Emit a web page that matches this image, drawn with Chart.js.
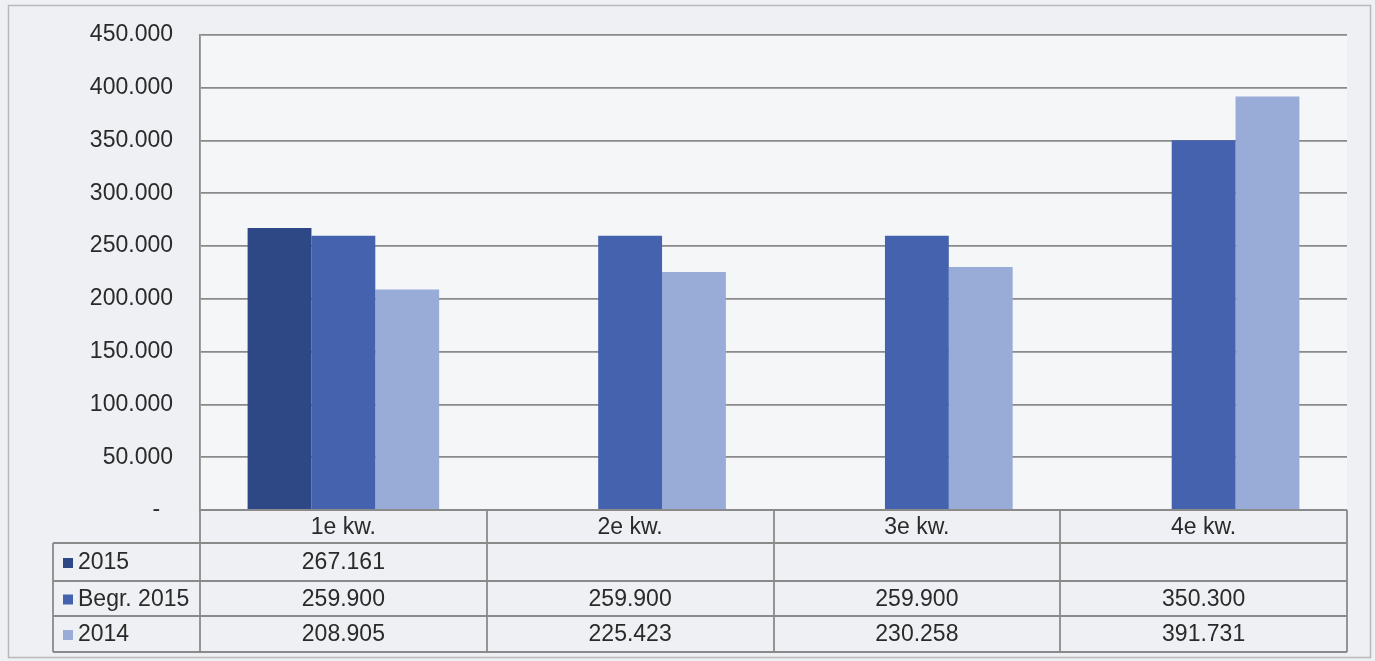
<!DOCTYPE html>
<html>
<head>
<meta charset="utf-8">
<script src="https://cdn.jsdelivr.net/npm/chart.js@4/dist/chart.umd.min.js"></script>
<style>
html, body { margin: 0; padding: 0; background: #eef0f3; }
#wrap { width: 1375px; height: 661px; position: relative; }
</style>
</head>
<body>
<div id="wrap"><canvas id="chart" width="1375" height="661"></canvas></div>
<script>
// categorieën en reeksen
const kwartalen = ['1e kw.', '2e kw.', '3e kw.', '4e kw.'];
const reeksNamen = ['2015', 'Begr. 2015', '2014'];
const data2015 = [267161, null, null, null];
const begr2015 = [259900, 259900, 259900, 350300];
const data2014 = [208905, 225423, 230258, 391731];
const yTicks = [0, 50000, 100000, 150000, 200000, 250000, 300000, 350000, 400000, 450000];
const kleuren = ['#2e4885', '#4462ad', '#98acd7'];

const FONT = '"Liberation Sans", Arial, sans-serif';
const LIJN = '#8a8a8a';
const TEKST = '#2a2a2a';

function fmt(v) {
  if (v === null || v === undefined) return '';
  if (v === 0) return '-  ';
  return String(v).replace(/\B(?=(\d{3})+(?!\d))/g, '.');
}

// achtergrond, kader en datatabel
const tabelPlugin = {
  id: 'tabel',
  beforeDraw(chart) {
    const ctx = chart.ctx;
    const a = chart.chartArea;
    ctx.save();
    ctx.fillStyle = '#eef0f3';
    ctx.fillRect(0, 0, chart.width, chart.height);
    ctx.fillStyle = '#f5f6f8';
    ctx.fillRect(a.left, a.top, a.right - a.left, a.bottom - a.top);
    ctx.strokeStyle = '#b8b8b8';
    ctx.lineWidth = 1.5;
    ctx.strokeRect(8.5, 5.5, 1362, 652);
    ctx.restore();
  },
  afterDraw(chart) {
    const ctx = chart.ctx;
    const a = chart.chartArea;
    const x = chart.scales.x;
    const labelLeft = 53;
    const rows = [a.bottom, 543, 581, 616, 652];
    const colW = (a.right - a.left) / kwartalen.length;
    ctx.save();
    ctx.strokeStyle = LIJN;
    ctx.lineWidth = 1.8;
    ctx.beginPath();
    // horizontale lijnen
    ctx.moveTo(a.left, rows[0]); ctx.lineTo(a.right, rows[0]);
    for (let i = 1; i < rows.length; i++) {
      ctx.moveTo(labelLeft, rows[i]); ctx.lineTo(a.right, rows[i]);
    }
    // verticale lijnen
    ctx.moveTo(labelLeft, rows[1]); ctx.lineTo(labelLeft, rows[4]);
    for (let i = 0; i <= kwartalen.length; i++) {
      const px = Math.round(a.left + i * colW);
      ctx.moveTo(px, rows[0]); ctx.lineTo(px, rows[4]);
    }
    ctx.stroke();

    ctx.fillStyle = TEKST;
    ctx.font = '23px ' + FONT;
    ctx.textBaseline = 'middle';
    ctx.textAlign = 'center';
    kwartalen.forEach((k, i) => {
      ctx.fillText(k, x.getPixelForValue(i), (rows[0] + rows[1]) / 2 + 1);
    });
    const reeksen = [data2015, begr2015, data2014];
    reeksen.forEach((r, j) => {
      const cy = (rows[j + 1] + rows[j + 2]) / 2 + 1;
      ctx.textAlign = 'center';
      ctx.fillStyle = TEKST;
      r.forEach((v, i) => ctx.fillText(fmt(v), x.getPixelForValue(i), cy));
      // legenda-sleutel
      ctx.fillStyle = kleuren[j];
      ctx.fillRect(63, cy - 5, 10, 10);
      ctx.fillStyle = TEKST;
      ctx.textAlign = 'left';
      ctx.fillText(reeksNamen[j], 78, cy);
    });
    ctx.restore();
  }
};

new Chart(document.getElementById('chart'), {
  type: 'bar',
  data: {
    labels: kwartalen,
    datasets: [
      { label: reeksNamen[0], data: data2015, backgroundColor: kleuren[0] },
      { label: reeksNamen[1], data: begr2015, backgroundColor: kleuren[1] },
      { label: reeksNamen[2], data: data2014, backgroundColor: kleuren[2] }
    ]
  },
  options: {
    responsive: false,
    animation: false,
    layout: { padding: { left: 0, top: 35, right: 28, bottom: 151 } },
    datasets: { bar: { categoryPercentage: 0.668, barPercentage: 1.0 } },
    plugins: { legend: { display: false }, tooltip: { enabled: false } },
    scales: {
      x: { display: false },
      y: {
        min: 0,
        max: 450000,
        afterFit(scale) {
          scale.width = 200;
          scale.paddingTop = 0;
          scale.paddingBottom = 0;
        },
        afterBuildTicks(scale) { scale.ticks = yTicks.map(v => ({ value: v })); },
        ticks: {
          padding: 27,
          color: TEKST,
          font: { family: FONT, size: 23 },
          callback: v => fmt(v)
        },
        grid: { color: LIJN, lineWidth: 1.8, drawTicks: false },
        border: { color: LIJN, width: 1.8 }
      }
    }
  },
  plugins: [tabelPlugin]
});
</script>
</body>
</html>
